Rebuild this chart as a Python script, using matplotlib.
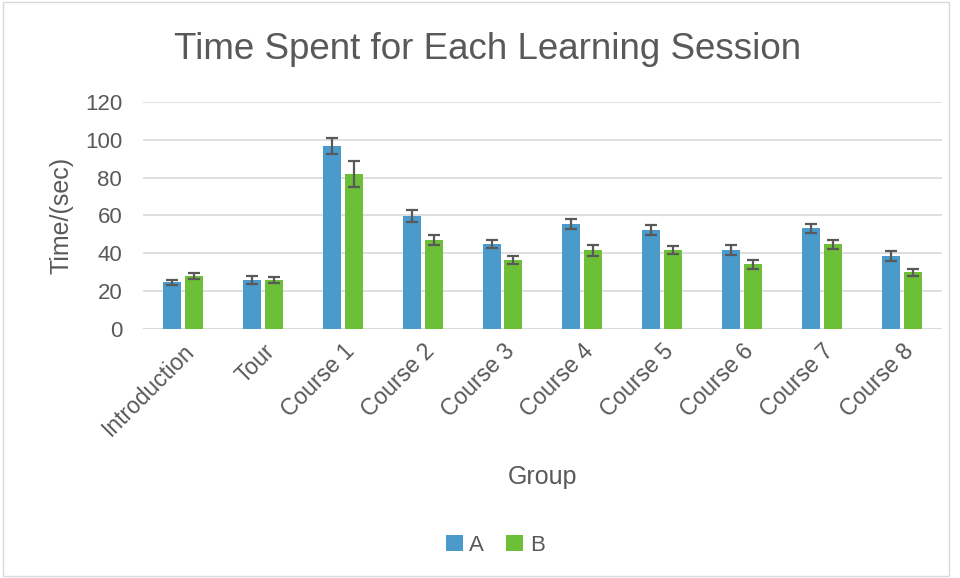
import matplotlib.pyplot as plt
import matplotlib.patches as mpatches
import numpy as np

categories = ["Introduction", "Tour", "Course 1", "Course 2", "Course 3",
              "Course 4", "Course 5", "Course 6", "Course 7", "Course 8"]
group_a = [24.7, 25.8, 96.7, 59.6, 44.8, 55.4, 52.2, 41.6, 53.3, 38.5]
group_b = [27.9, 25.8, 81.9, 46.9, 36.4, 41.6, 41.6, 34.2, 44.8, 30.0]
err_a = [1.3, 2.0, 4.2, 3.3, 2.1, 2.8, 2.6, 2.6, 2.4, 2.5]
err_b = [1.5, 1.6, 6.7, 2.5, 2.3, 3.0, 2.1, 2.4, 2.3, 1.8]

plt.rcParams["font.family"] = ["Liberation Sans", "DejaVu Sans"]
text_color = "#595959"
blue = "#4a9bcb"
green = "#6dbf38"

fig = plt.figure(figsize=(9.6, 5.78), dpi=100)
fig.patches.append(mpatches.Rectangle((0.003, 0.003), 0.986, 0.994, transform=fig.transFigure,
                                      fill=False, edgecolor="#d9d9d9", linewidth=1))
ax = fig.add_axes([0.149, 0.431, 0.832, 0.3925])

x = np.arange(len(categories))
w = 0.225
off = 0.137
ekw = dict(ecolor=text_color, elinewidth=1.6, capsize=4.5, capthick=1.6)
ax.bar(x - off, group_a, w, yerr=err_a, color=blue, label="A", error_kw=ekw, zorder=3)
ax.bar(x + off, group_b, w, yerr=err_b, color=green, label="B", error_kw=ekw, zorder=3)

ax.set_xlim(-0.5, len(categories) - 0.5)
ax.set_ylim(0, 120)
ax.set_yticks(range(0, 121, 20))
ax.yaxis.grid(True, color="#d9d9d9", linewidth=1.2, zorder=0)
ax.set_axisbelow(True)
for s in ax.spines.values():
    s.set_visible(False)
ax.axhline(0, color="#d9d9d9", linewidth=1.2, zorder=1)
ax.tick_params(axis="y", length=0, labelsize=16, labelcolor=text_color, pad=15)
ax.tick_params(axis="x", length=0, labelsize=16.5, labelcolor=text_color, pad=8)
ax.set_xticks(x)
ax.set_xticklabels(categories, rotation=45, ha="right", rotation_mode="anchor")
ax.set_ylabel("Time/(sec)", fontsize=18, color=text_color, labelpad=8)
ax.set_xlabel("Group", fontsize=18, color=text_color)
ax.xaxis.set_label_coords(0.5, -0.6)
fig.suptitle("Time Spent for Each Learning Session", fontsize=26.5, color=text_color,
             x=0.508, y=0.945)

leg = fig.legend(loc="center", bbox_to_anchor=(0.516, 0.057), ncol=2, frameon=False,
                 fontsize=16, handlelength=0.75, handleheight=0.75, handletextpad=0.3,
                 columnspacing=1.0, labelcolor=text_color)

fig.savefig("out.png", dpi=100)
